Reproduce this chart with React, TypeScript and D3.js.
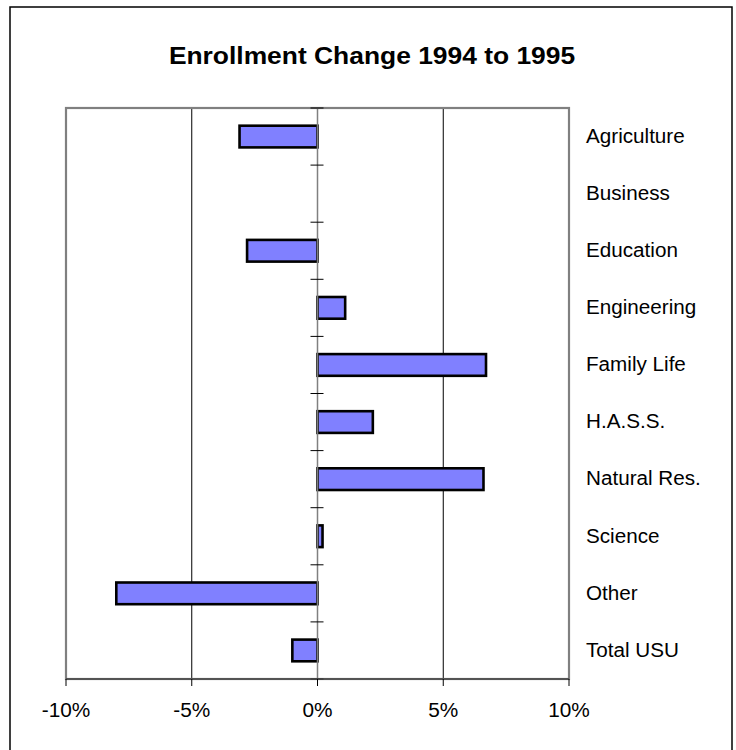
import React from "react";
import * as d3 from "d3";

const categories = ["Agriculture", "Business", "Education", "Engineering", "Family Life", "H.A.S.S.", "Natural Res.", "Science", "Other", "Total USU"];
const changes = [-3.1, 0, -2.8, 1.1, 6.7, 2.2, 6.6, 0.2, -8.0, -1.0];
const xTicks = [-10, -5, 0, 5, 10];
const title = "Enrollment Change 1994 to 1995";

const W = 736, H = 750;
const plot = { left: 66, right: 569, top: 108, bottom: 679 };
const FONT = "'Liberation Sans', Arial, Helvetica, sans-serif";

export default function App() {
  const x = d3.scaleLinear().domain([-10, 10]).range([plot.left, plot.right]);
  const y = d3.scaleBand<string>().domain(categories).range([plot.top, plot.bottom]).paddingInner(0.62).paddingOuter(0.31);
  const step = (plot.bottom - plot.top) / categories.length;
  const boundaries = d3.range(categories.length + 1).map((i) => plot.top + i * step);
  const x0 = x(0);

  return (
    <svg width={W} height={H} style={{ position: "absolute", left: 0, top: 0, background: "#fff" }}>
      <rect x={10} y={7} width={722} height={760} fill="#fff" stroke="#000" strokeWidth={1.5} />
      <text
        transform={`translate(${372},${63.5}) scale(1.1,1)`}
        textAnchor="middle"
        fontFamily={FONT}
        fontWeight="bold"
        fontSize={24}
        fill="#000"
      >
        {title}
      </text>
      {/* gridlines */}
      {xTicks.filter((t) => t !== 0 && Math.abs(t) !== 10).map((t) => (
        <line key={"g" + t} x1={x(t)} x2={x(t)} y1={plot.top} y2={plot.bottom} stroke="#000" strokeWidth={1} />
      ))}
      {/* bars */}
      {categories.map((c, i) => {
        const v = changes[i];
        if (v === 0) return null;
        const xa = Math.min(x(v), x0);
        const w = Math.abs(x(v) - x0);
        return (
          <rect key={c} x={xa} y={y(c)!} width={w} height={y.bandwidth()} fill="#8080FF" stroke="#000" strokeWidth={2.6} />
        );
      })}
      {/* plot border */}
      <rect x={plot.left} y={plot.top} width={plot.right - plot.left} height={plot.bottom - plot.top} fill="none" stroke="#808080" strokeWidth={2.2} />
      {/* zero axis */}
      <line x1={x0} x2={x0} y1={plot.top} y2={plot.bottom} stroke="#808080" strokeWidth={1.5} />
      {boundaries.map((b, i) => (
        <line key={"t" + i} x1={x0 - 7} x2={x0 + 6} y1={b} y2={b} stroke="#000" strokeWidth={1} />
      ))}
      {/* bottom axis */}
      <line x1={plot.left} x2={plot.right} y1={plot.bottom} y2={plot.bottom} stroke="#444" strokeWidth={1.4} />
      {xTicks.map((t) => (
        <g key={"x" + t}>
          <line x1={x(t)} x2={x(t)} y1={plot.bottom} y2={plot.bottom + 7} stroke="#000" strokeWidth={1} />
          <text
            transform={`translate(${x(t)},${716.7}) scale(1.04,1)`}
            textAnchor="middle"
            fontFamily={FONT}
            fontSize={20}
            fill="#000"
          >
            {`${t}%`}
          </text>
        </g>
      ))}
      {/* category labels */}
      {categories.map((c) => (
        <text
          key={"l" + c}
          transform={`translate(${586},${y(c)! + y.bandwidth() / 2 + 6.3}) scale(1.06,1)`}
          fontFamily={FONT}
          fontSize={19.5}
          fill="#000"
        >
          {c}
        </text>
      ))}
    </svg>
  );
}
